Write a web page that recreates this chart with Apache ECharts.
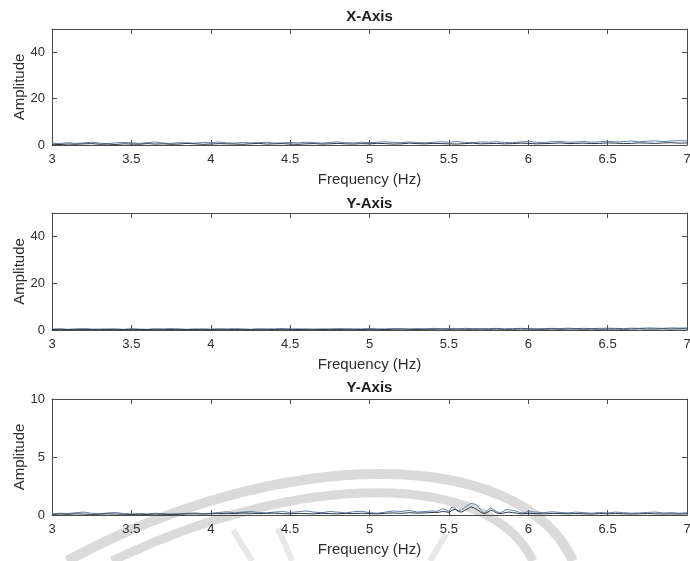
<!DOCTYPE html>
<html>
<head>
<meta charset="utf-8">
<script src="https://cdn.jsdelivr.net/npm/echarts@6/dist/echarts.min.js"></script>
<style>
  html, body { margin: 0; padding: 0; background: #ffffff; }
  #chart { width: 690px; height: 561px; }
</style>
</head>
<body>
<div id="chart"></div>
<script>
// Panel titles and shared axis text
const panelTitles = ['X-Axis', 'Y-Axis', 'Y-Axis'];
const xAxisName = 'Frequency (Hz)';
const yAxisName = 'Amplitude';
const yMax = [50, 50, 10];
const yStep = [20, 20, 5];

// Frequency grid for the first two panels (Hz)
const freq = [
  3.00, 3.05, 3.10, 3.15, 3.20, 3.25, 3.30, 3.35, 3.40, 3.45,
  3.50, 3.55, 3.60, 3.65, 3.70, 3.75, 3.80, 3.85, 3.90, 3.95,
  4.00, 4.05, 4.10, 4.15, 4.20, 4.25, 4.30, 4.35, 4.40, 4.45,
  4.50, 4.55, 4.60, 4.65, 4.70, 4.75, 4.80, 4.85, 4.90, 4.95,
  5.00, 5.05, 5.10, 5.15, 5.20, 5.25, 5.30, 5.35, 5.40, 5.45,
  5.50, 5.55, 5.60, 5.65, 5.70, 5.75, 5.80, 5.85, 5.90, 5.95,
  6.00, 6.05, 6.10, 6.15, 6.20, 6.25, 6.30, 6.35, 6.40, 6.45,
  6.50, 6.55, 6.60, 6.65, 6.70, 6.75, 6.80, 6.85, 6.90, 6.95,
  7.00
];

// X-axis spectrum
const xAmpDark = [
  0.3, 0.2, 0.4, 0.3, 0.5, 0.6, 0.3, 0.4, 0.2, 0.5,
  0.4, 0.3, 0.6, 0.4, 0.5, 0.3, 0.4, 0.7, 0.5, 0.3,
  0.4, 0.6, 0.5, 0.4, 0.3, 0.5, 0.7, 0.4, 0.5, 0.6,
  0.4, 0.3, 0.5, 0.6, 0.4, 0.5, 0.7, 0.5, 0.4, 0.6,
  0.5, 0.7, 0.6, 0.4, 0.5, 0.8, 0.6, 0.5, 0.7, 0.6,
  0.5, 0.4, 0.6, 0.8, 0.5, 0.6, 0.7, 0.5, 0.6, 0.8,
  0.7, 0.5, 0.6, 0.7, 0.9, 0.6, 0.7, 0.8, 0.6, 0.7,
  0.9, 0.8, 0.6, 0.7, 0.9, 0.8, 0.7, 0.9, 1.0, 0.8,
  0.9
];
const xAmpBlue = [
  0.8, 0.6, 1.0, 0.7, 0.9, 1.2, 0.8, 0.6, 0.9, 1.1,
  0.9, 0.7, 1.0, 1.3, 0.8, 0.7, 1.0, 0.9, 0.8, 1.1,
  1.0, 1.3, 0.9, 0.8, 1.1, 0.9, 1.0, 1.2, 0.8, 0.9,
  1.1, 0.9, 1.2, 1.0, 0.8, 1.1, 1.3, 1.0, 0.9, 1.2,
  1.0, 1.2, 1.4, 1.1, 1.0, 1.3, 1.1, 0.9, 1.2, 1.4,
  1.2, 1.5, 1.1, 1.0, 1.3, 1.2, 1.4, 1.1, 1.0, 1.3,
  1.5, 1.2, 1.1, 1.4, 1.6, 1.2, 1.3, 1.5, 1.2, 1.4,
  1.6, 1.3, 1.5, 1.7, 1.4, 1.6, 1.8, 1.5, 1.7, 1.9,
  1.8
];

// First Y-axis spectrum
const yAmpDark = [
  0.2, 0.3, 0.2, 0.3, 0.2, 0.2, 0.3, 0.2, 0.3, 0.2,
  0.3, 0.2, 0.2, 0.3, 0.3, 0.2, 0.3, 0.2, 0.2, 0.3,
  0.2, 0.3, 0.3, 0.2, 0.3, 0.2, 0.3, 0.3, 0.2, 0.3,
  0.3, 0.2, 0.3, 0.3, 0.2, 0.3, 0.2, 0.3, 0.3, 0.2,
  0.3, 0.3, 0.2, 0.3, 0.4, 0.3, 0.2, 0.3, 0.3, 0.4,
  0.3, 0.4, 0.3, 0.3, 0.4, 0.3, 0.4, 0.3, 0.3, 0.4,
  0.4, 0.3, 0.3, 0.4, 0.3, 0.4, 0.4, 0.3, 0.4, 0.3,
  0.4, 0.4, 0.3, 0.4, 0.5, 0.4, 0.4, 0.5, 0.4, 0.5,
  0.5
];
const yAmpBlue = [
  0.4, 0.5, 0.3, 0.4, 0.6, 0.4, 0.3, 0.5, 0.4, 0.3,
  0.5, 0.4, 0.3, 0.5, 0.4, 0.6, 0.4, 0.3, 0.5, 0.4,
  0.4, 0.5, 0.4, 0.6, 0.4, 0.3, 0.5, 0.4, 0.5, 0.6,
  0.4, 0.5, 0.4, 0.3, 0.5, 0.4, 0.6, 0.5, 0.4, 0.5,
  0.6, 0.4, 0.5, 0.6, 0.5, 0.4, 0.6, 0.5, 0.7, 0.5,
  0.6, 0.5, 0.7, 0.6, 0.5, 0.6, 0.7, 0.5, 0.6, 0.7,
  0.6, 0.5, 0.6, 0.7, 0.6, 0.8, 0.6, 0.7, 0.6, 0.7,
  0.8, 0.7, 0.6, 0.8, 0.7, 0.9, 0.8, 0.7, 0.9, 0.8,
  0.9
];

// Frequency grid for the third panel, finer around the 5.4–6 Hz peaks
const freq3 = [
  3.00, 3.05, 3.10, 3.15, 3.20, 3.25, 3.30, 3.35, 3.40, 3.45,
  3.50, 3.55, 3.60, 3.65, 3.70, 3.75, 3.80, 3.85, 3.90, 3.95,
  4.00, 4.05, 4.10, 4.15, 4.20, 4.25, 4.30, 4.35, 4.40, 4.45,
  4.50, 4.55, 4.60, 4.65, 4.70, 4.75, 4.80, 4.85, 4.90, 4.95,
  5.00, 5.05, 5.10, 5.15, 5.20, 5.25, 5.30, 5.35, 5.40,
  5.42, 5.44, 5.46, 5.48, 5.50, 5.52, 5.54, 5.56, 5.58, 5.60,
  5.62, 5.64, 5.66, 5.68, 5.70, 5.72, 5.74, 5.76, 5.78, 5.80,
  5.82, 5.84, 5.86, 5.88, 5.90, 5.92, 5.94, 5.96, 5.98,
  6.00, 6.05, 6.10, 6.15, 6.20, 6.25, 6.30, 6.35, 6.40, 6.45,
  6.50, 6.55, 6.60, 6.65, 6.70, 6.75, 6.80, 6.85, 6.90, 6.95,
  7.00
];

// Second Y-axis spectrum
const y2AmpDark = [
  0.05, 0.08, 0.06, 0.10, 0.08, 0.05, 0.07, 0.10, 0.08, 0.06,
  0.05, 0.06, 0.04, 0.08, 0.06, 0.05, 0.07, 0.09, 0.10, 0.08,
  0.10, 0.12, 0.15, 0.12, 0.18, 0.15, 0.12, 0.14, 0.16, 0.12,
  0.10, 0.14, 0.12, 0.10, 0.15, 0.12, 0.10, 0.14, 0.12, 0.15,
  0.12, 0.10, 0.15, 0.18, 0.14, 0.20, 0.16, 0.18, 0.22,
  0.20, 0.25, 0.30, 0.28, 0.22, 0.40, 0.50, 0.30, 0.25, 0.40,
  0.55, 0.70, 0.60, 0.45, 0.25, 0.10, 0.20, 0.40, 0.35, 0.18,
  0.12, 0.15, 0.22, 0.25, 0.20, 0.18, 0.12, 0.10, 0.12,
  0.15, 0.12, 0.10, 0.14, 0.12, 0.10, 0.12, 0.10, 0.08, 0.12,
  0.10, 0.12, 0.10, 0.08, 0.10, 0.12, 0.10, 0.08, 0.10, 0.08,
  0.10
];
const y2AmpBlue = [
  0.10, 0.15, 0.12, 0.20, 0.25, 0.15, 0.10, 0.18, 0.22, 0.12,
  0.08, 0.12, 0.10, 0.15, 0.12, 0.08, 0.10, 0.14, 0.18, 0.12,
  0.15, 0.22, 0.28, 0.20, 0.25, 0.30, 0.22, 0.18, 0.25, 0.30,
  0.22, 0.28, 0.35, 0.25, 0.20, 0.30, 0.25, 0.18, 0.28, 0.32,
  0.20, 0.15, 0.25, 0.35, 0.30, 0.40, 0.25, 0.30, 0.35,
  0.30, 0.40, 0.55, 0.45, 0.30, 0.70, 0.55, 0.35, 0.45, 0.65,
  0.85, 1.00, 0.95, 0.80, 0.45, 0.15, 0.35, 0.60, 0.50, 0.30,
  0.20, 0.30, 0.45, 0.45, 0.40, 0.35, 0.25, 0.18, 0.22,
  0.30, 0.25, 0.20, 0.28, 0.22, 0.18, 0.25, 0.20, 0.15, 0.22,
  0.18, 0.25, 0.20, 0.15, 0.18, 0.22, 0.25, 0.18, 0.20, 0.15,
  0.20
];

const panels = [
  { f: freq,  dark: xAmpDark,  blue: xAmpBlue },
  { f: freq,  dark: yAmpDark,  blue: yAmpBlue },
  { f: freq3, dark: y2AmpDark, blue: y2AmpBlue }
];

const FONT = 'Liberation Sans, Arial, Helvetica, sans-serif';
const TEXT = '#2e2e2e';
const AXIS = '#4a4a4a';
const gridTops = [29, 213, 399];
const gridHeights = [116, 117, 116];
const titleGaps = [20, 17, 19];
const plotLeft = 52, plotRight = 687;

const chart = echarts.init(document.getElementById('chart'), null, { renderer: 'canvas' });

const grids = [], xAxes = [], yAxes = [], series = [], titles = [];
panels.forEach((p, i) => {
  grids.push({
    left: plotLeft, width: plotRight - plotLeft, top: gridTops[i], height: gridHeights[i],
    containLabel: false, outerBoundsMode: 'none'
  });
  titles.push({
    text: panelTitles[i],
    left: (plotLeft + plotRight) / 2,
    textAlign: 'center',
    top: gridTops[i] - titleGaps[i],
    padding: 0,
    textStyle: { fontFamily: FONT, fontSize: 15, fontWeight: 'bold', color: '#1a1a1a' }
  });
  const lineStyle = { color: AXIS, width: 1 };
  // bottom axis with labels
  xAxes.push({
    type: 'value', gridIndex: i, position: 'bottom', min: 3, max: 7, interval: 0.5,
    name: xAxisName, nameLocation: 'middle', nameGap: 27, nameMoveOverlap: false,
    nameTextStyle: { fontFamily: FONT, fontSize: 15, color: TEXT },
    axisLine: { show: true, onZero: false, lineStyle },
    axisTick: { show: true, inside: true, length: 5, lineStyle },
    axisLabel: { fontFamily: FONT, fontSize: 13, color: TEXT, margin: 8, hideOverlap: false },
    splitLine: { show: false }
  });
  // top box edge with ticks
  xAxes.push({
    type: 'value', gridIndex: i, position: 'top', min: 3, max: 7, interval: 0.5,
    axisLine: { show: true, onZero: false, lineStyle },
    axisTick: { show: true, inside: true, length: 5, lineStyle },
    axisLabel: { show: false }, splitLine: { show: false }
  });
  yAxes.push({
    type: 'value', gridIndex: i, position: 'left', min: 0, max: yMax[i], interval: yStep[i],
    name: yAxisName, nameLocation: 'middle', nameGap: 25, nameMoveOverlap: false,
    nameTextStyle: { fontFamily: FONT, fontSize: 15, color: TEXT },
    axisLine: { show: true, onZero: false, lineStyle },
    axisTick: { show: true, inside: true, length: 5, lineStyle },
    axisLabel: {
      fontFamily: FONT, fontSize: 13, color: TEXT, margin: 7,
      formatter: v => (v % yStep[i] === 0 ? String(v) : '')
    },
    splitLine: { show: false }
  });
  yAxes.push({
    type: 'value', gridIndex: i, position: 'right', min: 0, max: yMax[i], interval: yStep[i],
    axisLine: { show: true, onZero: false, lineStyle },
    axisTick: { show: true, inside: true, length: 5, lineStyle },
    axisLabel: { show: false }, splitLine: { show: false }
  });
  series.push({
    type: 'line', xAxisIndex: 2 * i, yAxisIndex: 2 * i, symbol: 'none', silent: true,
    data: p.f.map((f, k) => [f, p.blue[k]]),
    lineStyle: { color: '#5b82ad', width: 1 }, z: 3
  });
  series.push({
    type: 'line', xAxisIndex: 2 * i, yAxisIndex: 2 * i, symbol: 'none', silent: true,
    data: p.f.map((f, k) => [f, p.dark[k]]),
    lineStyle: { color: '#2c3846', width: 1 }, z: 4
  });
});

// faint arched emblem printed across the lower part of the page
const emblemArcs = [
  { x1: 67, y1: 561, cpx1: 280, cpy1: 445, cpx2: 520, cpy2: 445, x2: 573, y2: 561, w: 10 },
  { x1: 112, y1: 561, cpx1: 300, cpy1: 470, cpx2: 490, cpy2: 470, x2: 533, y2: 561, w: 9 }
];
const emblemRays = [
  { x1: 252, y1: 561, x2: 233, y2: 530 },
  { x1: 292, y1: 561, x2: 278, y2: 528 },
  { x1: 430, y1: 561, x2: 446, y2: 534 }
];

const graphics = emblemArcs.map(b => ({
  type: 'bezierCurve', z: -1, silent: true,
  shape: { x1: b.x1, y1: b.y1, x2: b.x2, y2: b.y2, cpx1: b.cpx1, cpy1: b.cpy1, cpx2: b.cpx2, cpy2: b.cpy2 },
  style: { stroke: '#dadada', lineWidth: b.w, fill: null }
})).concat(emblemRays.map(r => ({
  type: 'line', z: -1, silent: true,
  shape: { x1: r.x1, y1: r.y1, x2: r.x2, y2: r.y2 },
  style: { stroke: '#e8e8e8', lineWidth: 6 }
})));

chart.setOption({
  animation: false,
  backgroundColor: '#ffffff',
  title: titles,
  grid: grids,
  xAxis: xAxes,
  yAxis: yAxes,
  series: series,
  graphic: graphics
});
</script>
</body>
</html>
